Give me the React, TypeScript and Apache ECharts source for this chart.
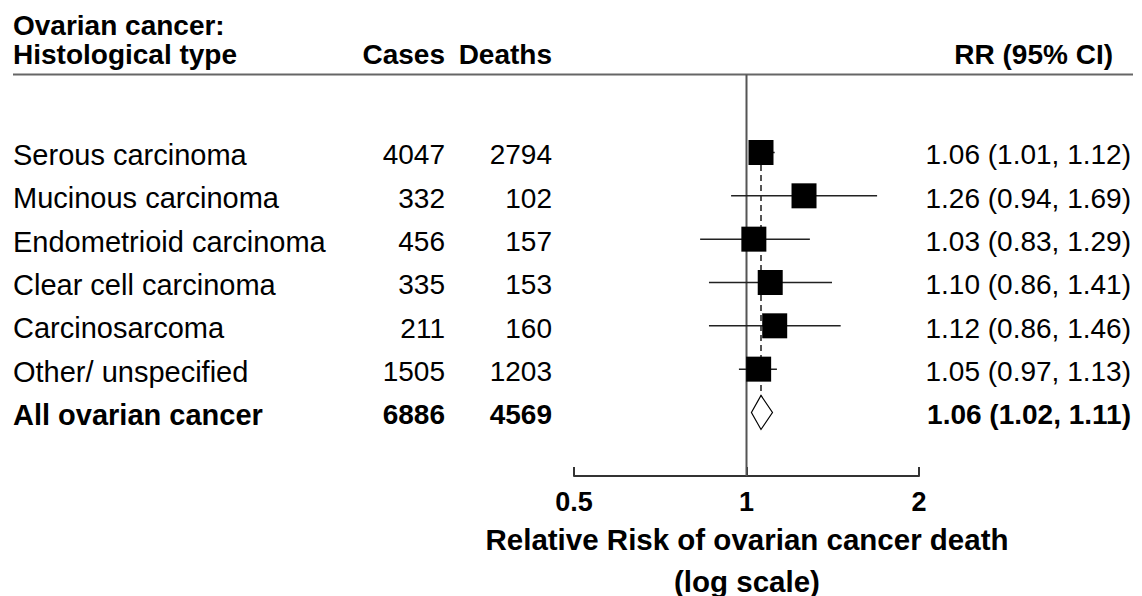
import React, { useEffect, useRef } from "react";
import * as echarts from "echarts";

const FONT = '"Liberation Sans", Arial, Helvetica, sans-serif';

const labels = [
  "Serous carcinoma",
  "Mucinous carcinoma",
  "Endometrioid carcinoma",
  "Clear cell carcinoma",
  "Carcinosarcoma",
  "Other/ unspecified",
  "All ovarian cancer",
];
const cases = [4047, 332, 456, 335, 211, 1505, 6886];
const deaths = [2794, 102, 157, 153, 160, 1203, 4569];
const rr = [1.06, 1.26, 1.03, 1.1, 1.12, 1.05, 1.06];
const lo = [1.01, 0.94, 0.83, 0.86, 0.86, 0.97, 1.02];
const hi = [1.12, 1.69, 1.29, 1.41, 1.46, 1.13, 1.11];
const overallIndex = 6;
const pooled = 1.06;
const xTicks = [0.5, 1, 2];
const axisTitle = ["Relative Risk of ovarian cancer death", "(log scale)"];

export default function App() {
  const ref = useRef<HTMLDivElement>(null);
  useEffect(() => {
    document.body.style.margin = "0";
    const chart = echarts.init(ref.current!, null, { renderer: "svg" });
    const fsLabel = 29;
    const fsNum = 28;
    const fsHead = 28;
    const rows = labels.map((l, i) => [i, rr[i], lo[i], hi[i]]);
    const head = (text: string, x: number, y: number, align = "left", fs = fsHead) => ({
      type: "text",
      style: {
        text,
        x,
        y,
        align,
        verticalAlign: "middle",
        fontSize: fs,
        lineHeight: fs,
        fontWeight: "bold",
        fontFamily: FONT,
        fill: "#000",
      },
    });
    const option = {
      animation: false,
      grid: { left: 574, right: 223, top: 74.5, bottom: 120, outerBoundsMode: "none", containLabel: false },
      xAxis: {
        type: "log",
        logBase: 2,
        min: xTicks[0],
        max: xTicks[xTicks.length - 1],
        splitLine: { show: false },
        axisLine: { onZero: false, lineStyle: { color: "#333", width: 2 } },
        axisTick: { inside: true, length: 9, lineStyle: { color: "#333", width: 2 } },
        axisLabel: {
          fontSize: 27,
          fontWeight: "bold",
          fontFamily: FONT,
          color: "#000",
          margin: 12,
          lineHeight: 28,
          formatter: (v: number) => String(+v.toFixed(2)),
        },
      },
      yAxis: { type: "value", min: -1.8, max: 7.466, inverse: true, show: false },
      series: [
        {
          type: "line",
          data: [
            [1, -1.8],
            [1, 7.466],
          ],
          symbol: "none",
          lineStyle: { color: "#555", width: 2 },
          z: 1,
        },
        {
          type: "line",
          data: [
            [pooled, 0.29],
            [pooled, 5.61],
          ],
          symbol: "none",
          lineStyle: { color: "#555", width: 2, type: [6, 4] },
          z: 1,
        },
        {
          type: "custom",
          z: 3,
          data: rows,
          renderItem: (params: any, api: any) => {
            const i = api.value(0);
            const c = api.coord([api.value(1), i]);
            const l = api.coord([api.value(2), i]);
            const h = api.coord([api.value(3), i]);
            if (i === overallIndex) {
              const hh = 17;
              return {
                type: "polygon",
                shape: {
                  points: [
                    [l[0], c[1]],
                    [c[0], c[1] - hh],
                    [h[0], c[1]],
                    [c[0], c[1] + hh],
                  ],
                },
                style: { fill: "#fff", stroke: "#000", lineWidth: 1.2 },
              };
            }
            const s = 25;
            return {
              type: "group",
              children: [
                {
                  type: "line",
                  shape: { x1: l[0], y1: c[1], x2: h[0], y2: c[1] },
                  style: { stroke: "#222", lineWidth: 1.5 },
                },
                {
                  type: "rect",
                  shape: { x: c[0] - s / 2, y: c[1] - s / 2, width: s, height: s },
                  style: { fill: "#000" },
                },
              ],
            };
          },
        },
        {
          type: "custom",
          z: 4,
          clip: false,
          data: rows,
          renderItem: (params: any, api: any) => {
            const i = api.value(0);
            const y = api.coord([1, i])[1] + 2.5;
            const bold = i === overallIndex;
            const st = (text: string, x: number, align: string, fs: number) => ({
              type: "text",
              style: {
                text,
                x,
                y,
                align,
                verticalAlign: "middle",
                fill: "#000",
                fontSize: fs,
                fontFamily: FONT,
                fontWeight: bold ? "bold" : "normal",
              },
            });
            const t = `${rr[i].toFixed(2)} (${lo[i].toFixed(2)}, ${hi[i].toFixed(2)})`;
            return {
              type: "group",
              children: [
                st(labels[i], 13, "left", fsLabel),
                st(String(cases[i]), 445, "right", fsNum),
                st(String(deaths[i]), 552, "right", fsNum),
                st(t, 1131, "right", fsNum),
              ],
            };
          },
        },
      ],
      graphic: [
        head("Ovarian cancer:", 13, 25),
        head("Histological type", 13, 54),
        head("Cases", 445, 54, "right"),
        head("Deaths", 552, 54, "right"),
        head("RR (95% CI)", 1113, 54, "right"),
        {
          type: "line",
          shape: { x1: 13, y1: 74.5, x2: 1133, y2: 74.5 },
          style: { stroke: "#666", lineWidth: 2 },
        },
        head(axisTitle[0], 747, 539, "center", 29.5),
        head(axisTitle[1], 747, 581, "center", 29.5),
      ],
    };
    chart.setOption(option as any);
    return () => chart.dispose();
  }, []);
  return <div ref={ref} style={{ width: 1142, height: 596 }} />;
}
